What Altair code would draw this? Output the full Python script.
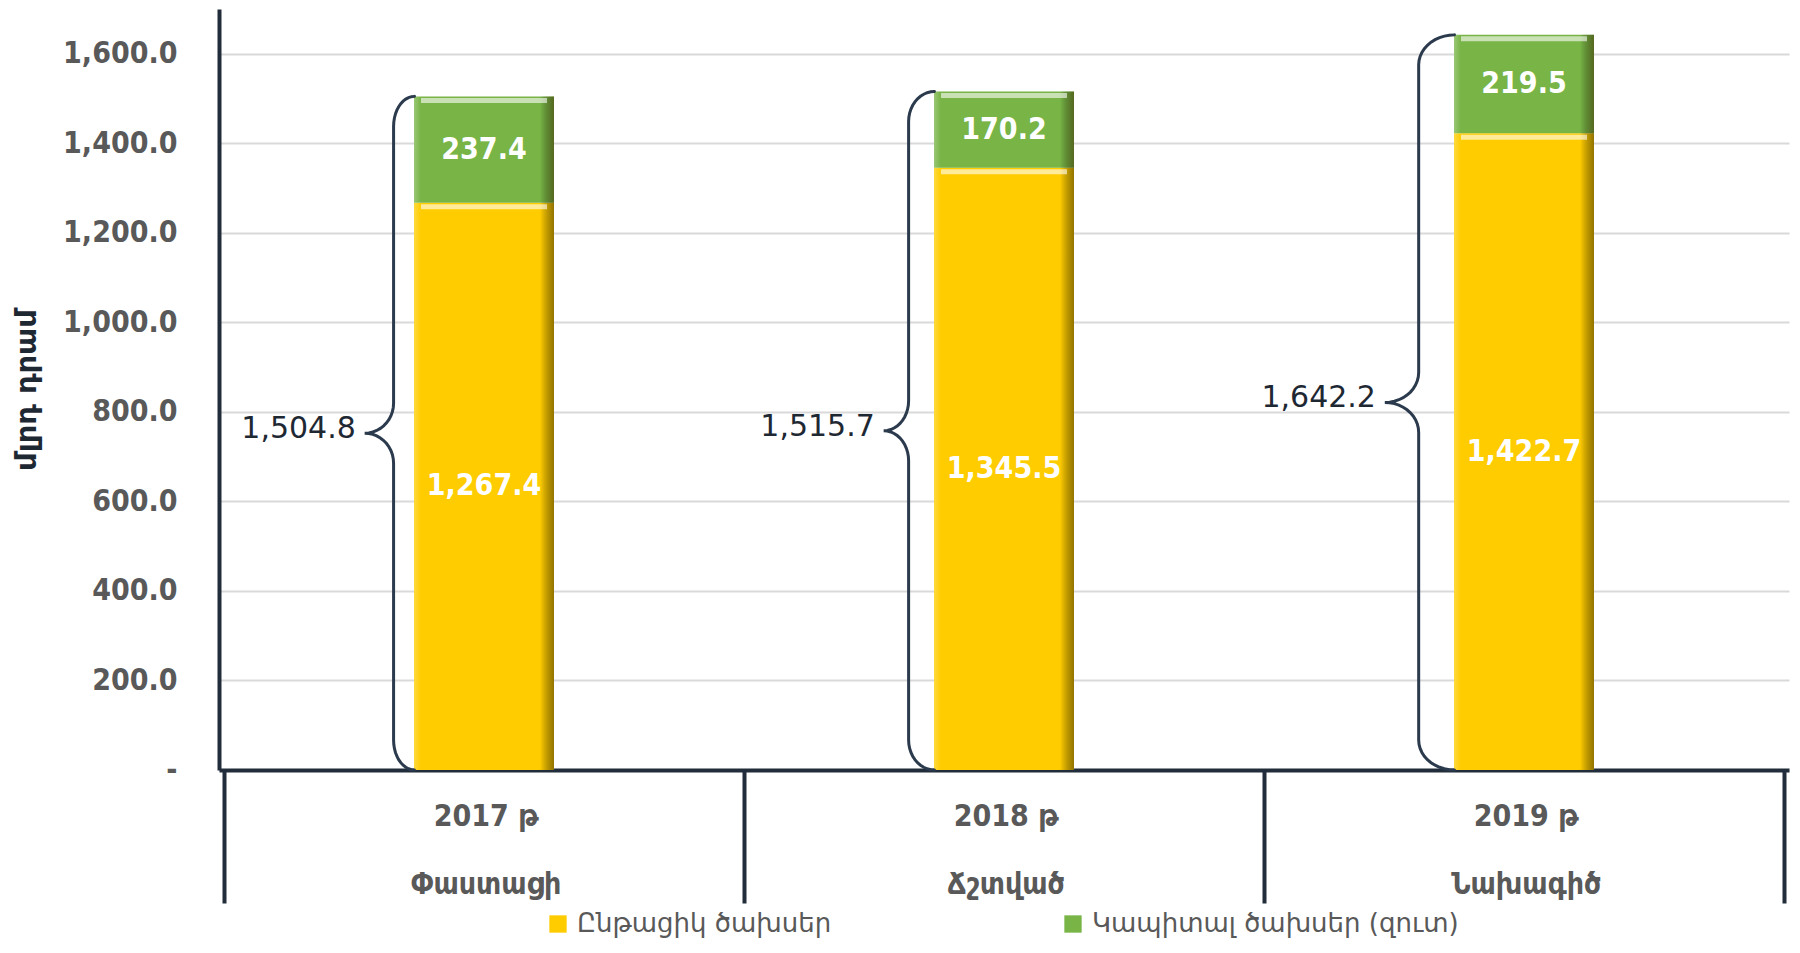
import json
import altair as alt
import numpy as np
import pandas as pd

# ---------------- data ----------------
years = ["2017 թ", "2018 թ", "2019 թ"]
stages = ["Փաստացի", "Ճշտված", "Նախագիծ"]
current = [1267.4, 1345.5, 1422.7]
capital = [237.4, 170.2, 219.5]
totals = [1504.8, 1515.7, 1642.2]
series = ["Ընթացիկ ծախսեր", "Կապիտալ ծախսեր (զուտ)"]
y_ticks = [0, 200, 400, 600, 800, 1000, 1200, 1400, 1600]
y_max = 1700

# ---------------- layout / style ----------------
W, H = 1570, 761
BAR = 140
PXX = W / 3
PXY = H / y_max
brace_line = [-21, -26, -36]   # px from bar left edge
brace_tip = [-50, -51, -70]
R = 30

FONT = "DejaVu Sans Condensed, DejaVu Sans, sans-serif"
WFONT = "DejaVu Sans, sans-serif"
DARK = "#222d3b"
GRAY = "#595959"
YELLOW = "#FFCC00"
GREEN = "#78B446"

# bar table
rows = []
for i in range(3):
    top = current[i] + capital[i]
    rows.append(dict(x=i, y=0.0, y2=current[i], series=series[0],
                     mid=current[i] / 2, v=current[i]))
    rows.append(dict(x=i, y=current[i], y2=top, series=series[1],
                     mid=current[i] + capital[i] / 2, v=capital[i]))
bar_df = pd.DataFrame(rows)


def arc(cx, cy, rx, ry, a0, a1, n=12):
    t = np.radians(np.linspace(a0, a1, n))
    return list(zip(cx + rx * np.cos(t), cy + ry * np.sin(t)))


brows = []
trows = []
for i in range(3):
    T = totals[i] * PXY
    M = T / 2
    L = brace_line[i]
    P = brace_tip[i]
    pts = (arc(0, T - R, -L, R, 90, 180)
           + arc(P, M + R, L - P, R, 0, -90)
           + arc(P, M - R, L - P, R, 90, 0)
           + arc(0, R, -L, R, 180, 270))
    for k, (px, py) in enumerate(pts):
        brows.append(dict(b=i, k=k, x=i + (-BAR / 2 + px) / PXX, y=py / PXY))
    trows.append(dict(x=i + (-BAR / 2 + P - 9) / PXX, y=totals[i] / 2, v=totals[i]))
brace_df = pd.DataFrame(brows)
tot_df = pd.DataFrame(trows)

# x axis labels (two lines) placed between separator ticks
parts = []
for i in range(3):
    parts.append((i - 0.5 + 0.25, json.dumps([years[i], stages[i]], ensure_ascii=False)))
expr = "''"
for thr, lab in reversed(parts):
    expr = f"datum.value < {thr} ? {lab} : ({expr})"

XS = alt.Scale(domain=[-0.5, 2.5], nice=False, zero=False)
YS = alt.Scale(domain=[0, y_max], nice=False, zero=True)

x_axis = alt.Axis(
    values=[-0.5, 0.5, 1.5, 2.5], labelExpr=expr, labelOffset=W / 6,
    labelPadding=-102, labelFont=FONT, labelFontSize=30, labelFontWeight="bold",
    labelColor=GRAY, labelLineHeight=68, labelBaseline="top", labelFlush=False,
    labelOverlap=False, ticks=True, tickSize=133, tickColor=DARK, tickWidth=4,
    domainColor=DARK, domainWidth=4, grid=False, title=None,
)
y_axis = alt.Axis(
    values=y_ticks,
    labelExpr="datum.value == 0 ? '-\u00a0\u00a0' : format(datum.value, ',.1f')",
    labelFont=FONT, labelFontSize=30, labelFontWeight="bold", labelColor=GRAY,
    labelPadding=42, ticks=False, domainColor=DARK, domainWidth=4,
    grid=True, gridColor="#d9d9d9", gridWidth=2,
    title="մլրդ դրամ", titleFont=WFONT, titleFontSize=29, titleFontWeight="bold",
    titleColor="#1e2833", titleX=-193, titleY=H / 2, titleBaseline="middle",
    titleAlign="center",
)

X = alt.X("x:Q", scale=XS, axis=x_axis)
Y = alt.Y("y:Q", scale=YS, axis=y_axis)

bars = alt.Chart(bar_df).mark_bar(size=BAR).encode(
    x=X, y=Y, y2="y2:Q",
    color=alt.Color("series:N", scale=alt.Scale(domain=series, range=[YELLOW, GREEN]),
                    legend=alt.Legend(
                        title=None, orient="none", legendX=326, legendY=902,
                        direction="horizontal", symbolType="square", symbolSize=300,
                        symbolStrokeWidth=0, labelFont=WFONT, labelFontSize=26,
                        labelColor=GRAY, labelLimit=800, columnPadding=228,
                        padding=0, labelOffset=6)),
)

shade = alt.Chart(bar_df).mark_bar(
    size=BAR,
    color=alt.Gradient(
        gradient="linear", x1=0, x2=1, y1=0, y2=0,
        stops=[alt.GradientStop(offset=0, color="rgba(255,255,255,0.25)"),
               alt.GradientStop(offset=0.05, color="rgba(255,255,255,0)"),
               alt.GradientStop(offset=0.9, color="rgba(0,0,0,0)"),
               alt.GradientStop(offset=1, color="rgba(60,45,0,0.55)")]),
).encode(x=X, y=Y, y2="y2:Q")

hilite = alt.Chart(bar_df).mark_tick(
    orient="horizontal", size=BAR - 14, thickness=5, color="white", opacity=0.6, yOffset=4
).encode(x=X, y=alt.Y("y2:Q", scale=YS, axis=y_axis))

labels = alt.Chart(bar_df).mark_text(
    font=FONT, fontSize=30, fontWeight="bold", color="white", baseline="middle"
).encode(x=X, y=alt.Y("mid:Q", scale=YS, axis=y_axis), text=alt.Text("v:Q", format=",.1f"))

brace = alt.Chart(brace_df).mark_line(color="#2b3a4c", strokeWidth=3, strokeCap="round").encode(
    x=X, y=Y, order="k:Q", detail="b:N")

tot = alt.Chart(tot_df).mark_text(
    font=WFONT, fontSize=30, color="#1e2833", align="right", baseline="middle", dy=-4
).encode(x=X, y=Y, text=alt.Text("v:Q", format=",.1f"))

chart = alt.layer(bars, shade, hilite, labels, brace, tot).properties(
    width=W, height=H,
    padding={"left": 211, "top": 1, "right": 2, "bottom": 170},
    autosize=alt.AutoSizeParams(type="none"),
).configure_view(stroke=None)

chart.save("out.html", embed_options={"renderer": "svg", "actions": False})
